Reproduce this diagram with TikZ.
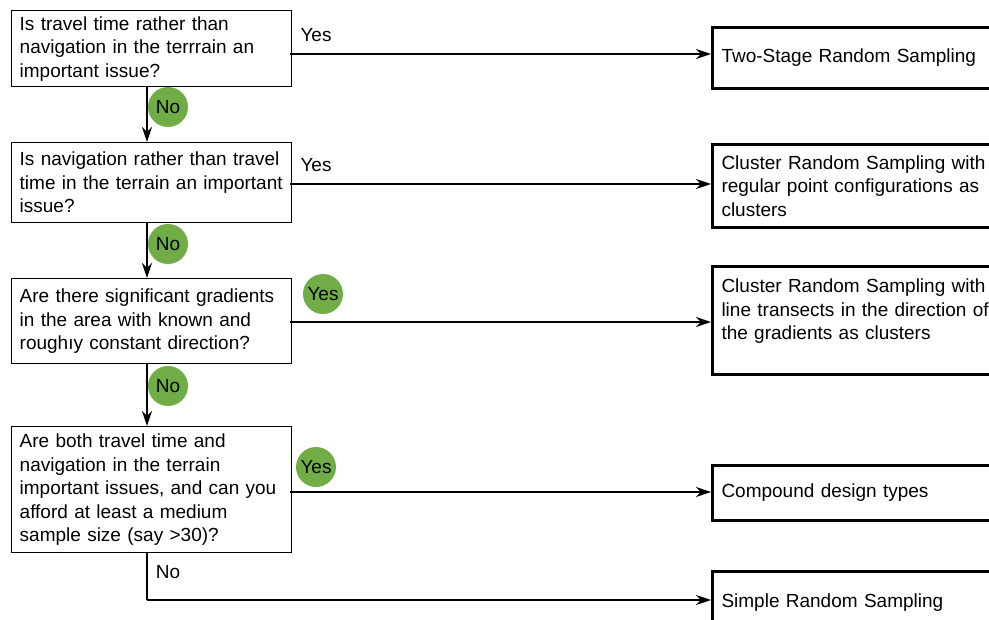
\documentclass[tikz,border=0pt]{standalone}
\usepackage{fontspec}
\setmainfont{Liberation Sans}
\usetikzlibrary{arrows.meta}
\definecolor{leafgreen}{RGB}{112,173,71}
\begin{document}
\begin{tikzpicture}[x=1pt,y=-1pt,
  every node/.style={font=\fontsize{19}{23.5}\selectfont},
  question/.style={draw, line width=1.4pt, rectangle, anchor=north west,
    minimum width=279pt, text width=264pt, align=left, inner xsep=8pt, inner ysep=0pt},
  outcome/.style={draw, line width=3pt, rectangle, anchor=north west,
    minimum width=330pt, text width=312pt, align=left, inner xsep=9pt, inner ysep=0pt},
  badge/.style={circle, fill=leafgreen, minimum size=40pt, inner sep=0pt},
  flow/.style={line width=1.3pt, -{Stealth[length=15pt,width=10pt,inset=5pt]}},
  plain/.style={line width=1.3pt}]
\useasboundingbox (0,0) rectangle (989,620);
\begin{scope}
\clip (0,0) rectangle (989,620);

% decision boxes
\node[question, minimum height=76pt] (q1) at (11,10)
  {Is travel time rather than\\navigation in the terrrain an\\important issue?};
\node[question, minimum height=80pt] (q2) at (11,142)
  {Is navigation rather than travel\\time in the terrain an important\\issue?};
\node[question, minimum height=85pt] (q3) at (11,278)
  {Are there significant gradients\\in the area with known and\\roughıy constant direction?};
\node[question, minimum height=126pt] (q4) at (11,426)
  {Are both travel time and\\navigation in the terrain\\important issues, and can you\\afford at least a medium\\sample size (say >30)?};

% outcome boxes
\node[outcome, minimum height=61pt] (r1) at (711,26) {Two-Stage Random Sampling};
\node[outcome, minimum height=83pt] (r2) at (711,143)
  {Cluster Random Sampling with\\regular point configurations as\\clusters};
\node[outcome, minimum height=108pt, text depth=69pt] (r3) at (711,265)
  {Cluster Random Sampling with\\line transects in the direction of\\the gradients as clusters};
\node[outcome, minimum height=55pt] (r4) at (711,464) {Compound design types};
\node[outcome, minimum height=62pt] (r5) at (711,570) {Simple Random Sampling};

% connectors
\coordinate (c1) at (290,54);
\coordinate (c2) at (290,184);
\coordinate (c3) at (290,322);
\coordinate (c4) at (290,492);
\draw[flow] (c1) -- (c1 -| r1.west);
\draw[flow] (c2) -- (c2 -| r2.west);
\draw[flow] (c3) -- (c3 -| r3.west);
\draw[flow] (c4) -- (c4 -| r4.west);

\coordinate (s1) at (147,86);
\coordinate (s2) at (147,222);
\coordinate (s3) at (147,363);
\draw[flow] (s1) -- (s1 |- q2.north);
\draw[flow] (s2) -- (s2 |- q3.north);
\draw[flow] (s3) -- (s3 |- q4.north);

\coordinate (s4) at (147,552);
\coordinate (bend) at (147,600);
\draw[plain] (s4) -- (bend);
\draw[flow] (bend) -- (bend -| r5.west);

% answer labels
\node (y1) at (316,35) {Yes};
\node (y2) at (316,165) {Yes};
\node[badge] (y3) at (323,294) {Yes};
\node[badge] (y4) at (316,467) {Yes};
\node[badge] (n1) at (168,107) {No};
\node[badge] (n2) at (168,244) {No};
\node[badge] (n3) at (168,386) {No};
\node (n4) at (168,572) {No};
\end{scope}
\end{tikzpicture}
\end{document}
